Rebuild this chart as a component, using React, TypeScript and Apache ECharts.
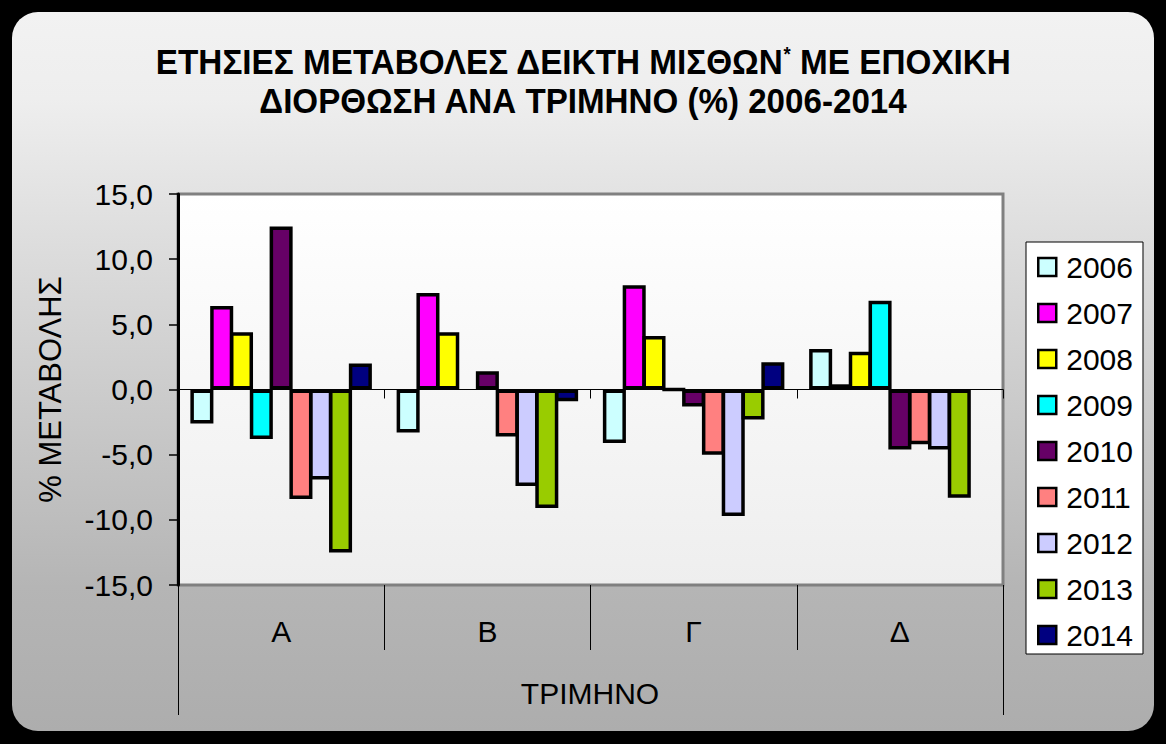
import React, { useEffect, useRef } from 'react';
import * as echarts from 'echarts';

const categories = ['Α', 'Β', 'Γ', 'Δ'];
const years = ['2006', '2007', '2008', '2009', '2010', '2011', '2012', '2013', '2014'];
const v2006 = [-2.6, -3.3, -4.1, 3.1];
const v2007 = [6.4, 7.4, 8.0, 0.4];
const v2008 = [4.4, 4.4, 4.1, 2.9];
const v2009 = [-3.8, null, 0.0, 6.8];
const v2010 = [12.5, 1.4, -1.3, -4.6];
const v2011 = [-8.4, -3.6, -5.0, -4.2];
const v2012 = [-6.9, -7.4, -9.7, -4.6];
const v2013 = [-12.5, -9.1, -2.3, -8.3];
const v2014 = [2.0, -0.9, 2.1, null];
const seriesValues = [v2006, v2007, v2008, v2009, v2010, v2011, v2012, v2013, v2014];
const colors = ['#CCFFFF', '#FF00FF', '#FFFF00', '#00FFFF', '#660066', '#FF8080', '#CCCCFF', '#99CC00', '#000080'];
const yTicks = { min: -15, max: 15, interval: 5 };

const titleLine1a = 'ΕΤΗΣΙΕΣ ΜΕΤΑΒΟΛΕΣ ΔΕΙΚΤΗ ΜΙΣΘΩΝ';
const titleLine1b = ' ΜΕ ΕΠΟΧΙΚΗ';
const titleLine2 = 'ΔΙΟΡΘΩΣΗ ΑΝΑ ΤΡΙΜΗΝΟ (%) 2006-2014';
const yName = '% ΜΕΤΑΒΟΛΗΣ';
const xName = 'ΤΡΙΜΗΝΟ';

const FONT = '"Liberation Sans", Arial, sans-serif';

function measure(text: string, font: string): number {
  const c = document.createElement('canvas').getContext('2d');
  if (!c) return text.length * 20;
  c.font = font;
  return c.measureText(text).width;
}

export default function App() {
  const ref = useRef<HTMLDivElement>(null);
  useEffect(() => {
    if (!ref.current) return;
    const chart = echarts.init(ref.current, undefined, { renderer: 'svg' });
    const tf = `bold 36px ${FONT}`;
    const w1 = measure(titleLine1a, tf) + measure(titleLine1b, tf) + measure('*', `bold 20px ${FONT}`);
    const w2 = measure(titleLine2, tf);
    const s1 = 856 / w1;
    const s2 = 649 / w2;

    const option: any = {
      animation: false,
      backgroundColor: '#000000',
      textStyle: { fontFamily: FONT },
      graphic: [
        {
          type: 'rect',
          z: -10,
          silent: true,
          shape: { x: 12, y: 12, width: 1142, height: 719, r: 26 },
          style: {
            fill: new echarts.graphic.LinearGradient(0, 0, 0, 1, [
              { offset: 0, color: '#f2f2f2' },
              { offset: 0.12, color: '#eeeeee' },
              { offset: 0.8, color: '#b5b5b5' },
              { offset: 1, color: '#adadad' },
            ]),
          },
        },
        {
          type: 'text',
          x: 583,
          y: 62,
          scaleX: s1,
          style: {
            text: `{a|${titleLine1a}}{s|*}{a|${titleLine1b}}`,
            align: 'center',
            verticalAlign: 'middle',
            rich: {
              a: { fontFamily: FONT, fontWeight: 'bold', fontSize: 36, fill: '#000', color: '#000' },
              s: { fontFamily: FONT, fontWeight: 'bold', fontSize: 20, verticalAlign: 'top', fill: '#000', color: '#000' },
            },
          },
        },
        {
          type: 'text',
          x: 583,
          y: 101,
          scaleX: s2,
          style: {
            text: titleLine2,
            align: 'center',
            verticalAlign: 'middle',
            font: `bold 36px ${FONT}`,
            fill: '#000',
          },
        },
        {
          type: 'text',
          x: 590,
          y: 693,
          style: {
            text: xName,
            align: 'center',
            verticalAlign: 'middle',
            font: `30px ${FONT}`,
            fill: '#000',
          },
        },
        {
          type: 'line',
          shape: { x1: 178.5, y1: 585, x2: 178.5, y2: 715 },
          style: { stroke: '#000', lineWidth: 1 },
        },
        {
          type: 'line',
          shape: { x1: 1003.5, y1: 585, x2: 1003.5, y2: 715 },
          style: { stroke: '#000', lineWidth: 1 },
        },
      ],
      grid: {
        left: 178,
        right: 163,
        top: 194,
        bottom: 159,
        show: true,
        borderColor: '#808080',
        borderWidth: 3,
        backgroundColor: new echarts.graphic.LinearGradient(0, 0, 0, 1, [
          { offset: 0, color: '#ffffff' },
          { offset: 1, color: '#eeeeee' },
        ]),
      },
      legend: {
        orient: 'vertical',
        left: 1026,
        top: 242,
        backgroundColor: '#ffffff',
        borderColor: '#000000',
        borderWidth: 1,
        padding: [10, 10, 4, 11],
        itemGap: 16,
        itemWidth: 18,
        itemHeight: 18,
        icon: 'rect',
        itemStyle: { borderColor: '#000', borderWidth: 2.5 },
        textStyle: { fontSize: 30, lineHeight: 30, color: '#000', fontFamily: FONT, padding: [0, 0, 0, 5] },
        data: years,
      },
      xAxis: [
        {
          type: 'category',
          data: categories,
          axisLine: { onZero: true, lineStyle: { color: '#000', width: 1 } },
          axisTick: { show: true, length: 9, lineStyle: { color: '#000' } },
          axisLabel: { show: false },
          z: 1,
        },
        {
          type: 'category',
          data: categories,
          position: 'bottom',
          axisLine: { show: false, onZero: false },
          axisTick: { show: true, length: 65, lineStyle: { color: '#000', width: 1 } },
          axisLabel: { fontSize: 30, color: '#000', margin: 31, fontFamily: FONT },
        },
      ],
      yAxis: {
        type: 'value',
        min: yTicks.min,
        max: yTicks.max,
        interval: yTicks.interval,
        name: yName,
        nameLocation: 'middle',
        nameRotate: 90,
        nameGap: 112,
        nameTextStyle: { fontSize: 31, color: '#000', fontFamily: FONT },
        axisLine: { show: true, lineStyle: { color: '#000', width: 3 } },
        axisTick: { show: true, length: 9, lineStyle: { color: '#000', width: 1.5 } },
        splitLine: { show: false },
        axisLabel: {
          fontSize: 30,
          color: '#000',
          margin: 25,
          fontFamily: FONT,
          formatter: (v: number) => v.toFixed(1).replace('.', ','),
        },
      },
      series: years.map((y, i) => ({
        name: y,
        type: 'bar',
        xAxisIndex: 0,
        data: seriesValues[i],
        barGap: '-14%',
        barCategoryGap: '12%',
        itemStyle: { color: colors[i], borderColor: '#000', borderWidth: 3.5 },
      })),
    };
    chart.setOption(option);
    return () => chart.dispose();
  }, []);
  return <div ref={ref} style={{ position: 'absolute', left: 0, top: 0, width: 1166, height: 744 }} />;
}
